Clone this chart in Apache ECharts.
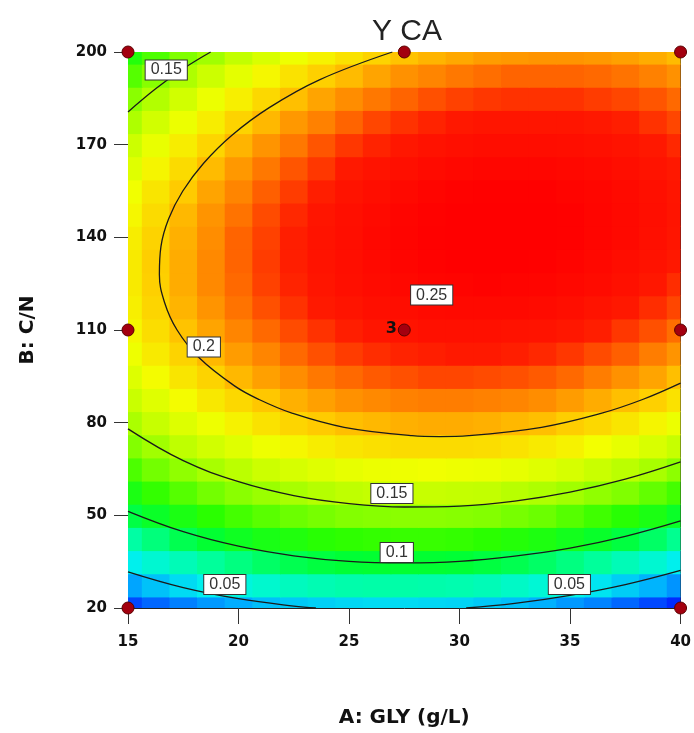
<!DOCTYPE html>
<html>
<head>
<meta charset="utf-8">
<title>Y CA</title>
<script src="https://cdn.jsdelivr.net/npm/echarts@6/dist/echarts.min.js"></script>
<style>
html, body {
	margin: 0;
	padding: 0;
	background: #fff;
}
#chart {
	width: 694px;
	height: 733px;
}
</style>
</head>
<body>
<div id="chart"></div>
<script type="text/javascript">

    // A: GLY (g/L) columns and B: C/N rows of the surface grid
    var gly = [15, 16.25, 17.5, 18.75, 20, 21.25, 22.5, 23.75, 25, 26.25, 27.5,
               28.75, 30, 31.25, 32.5, 33.75, 35, 36.25, 37.5, 38.75, 40];
    var cn = [20, 27.5, 35, 42.5, 50, 57.5, 65, 72.5, 80, 87.5, 95, 102.5, 110,
              117.5, 125, 132.5, 140, 147.5, 155, 162.5, 170, 177.5, 185, 192.5, 200];

    // Y CA, one row per C/N value (bottom to top)
    var yca = [
        [.015,.023,.029,.035,.040,.045,.048,.050,.052,.053,.053,.052,.051,.048,.045,.041,.035,.030,.023,.015,.007],
        [.038,.046,.053,.059,.064,.068,.072,.075,.077,.078,.078,.077,.076,.074,.070,.066,.062,.056,.049,.042,.034],
        [.059,.067,.074,.081,.086,.091,.095,.098,.100,.101,.101,.101,.100,.098,.095,.091,.086,.081,.074,.067,.059],
        [.079,.087,.095,.101,.107,.112,.115,.119,.121,.122,.123,.123,.122,.120,.117,.114,.109,.104,.098,.091,.083],
        [.097,.105,.113,.120,.126,.131,.135,.138,.141,.142,.143,.143,.142,.141,.138,.135,.130,.125,.119,.113,.105],
        [.113,.122,.130,.137,.143,.148,.152,.156,.159,.161,.162,.162,.161,.160,.157,.154,.150,.145,.140,.133,.126],
        [.128,.137,.145,.152,.158,.164,.168,.172,.175,.177,.178,.179,.178,.177,.175,.172,.168,.163,.158,.152,.144],
        [.141,.150,.159,.166,.172,.178,.183,.187,.190,.192,.194,.194,.194,.193,.191,.188,.185,.180,.175,.169,.162],
        [.153,.162,.171,.178,.185,.191,.196,.200,.203,.205,.207,.208,.208,.207,.205,.203,.199,.195,.190,.184,.177],
        [.163,.172,.181,.189,.195,.201,.207,.211,.215,.217,.219,.220,.220,.219,.218,.216,.212,.208,.203,.198,.191],
        [.171,.181,.190,.197,.205,.211,.216,.221,.224,.227,.229,.231,.231,.230,.229,.227,.224,.220,.215,.210,.203],
        [.178,.188,.197,.205,.212,.218,.224,.229,.233,.236,.238,.239,.240,.240,.239,.237,.234,.230,.226,.220,.214],
        [.183,.193,.202,.210,.218,.224,.230,.235,.239,.243,.245,.247,.247,.247,.246,.245,.242,.239,.234,.229,.223],
        [.186,.196,.206,.214,.222,.229,.235,.240,.244,.248,.250,.252,.253,.253,.253,.251,.249,.245,.241,.236,.231],
        [.188,.198,.208,.217,.224,.232,.238,.243,.248,.251,.254,.256,.257,.258,.257,.256,.254,.251,.247,.242,.236],
        [.188,.199,.208,.217,.225,.233,.239,.245,.249,.253,.256,.258,.260,.260,.260,.259,.257,.254,.250,.246,.241],
        [.187,.197,.207,.216,.225,.232,.239,.245,.249,.254,.257,.259,.261,.261,.261,.260,.259,.256,.253,.248,.243],
        [.183,.194,.205,.214,.222,.230,.237,.243,.248,.252,.256,.258,.260,.261,.261,.260,.259,.256,.253,.249,.244],
        [.179,.190,.200,.210,.218,.226,.233,.239,.245,.249,.253,.256,.258,.259,.259,.259,.257,.255,.252,.248,.243],
        [.172,.184,.194,.204,.213,.221,.228,.234,.240,.245,.248,.251,.254,.255,.255,.255,.254,.252,.249,.245,.241],
        [.164,.176,.187,.196,.206,.214,.221,.228,.234,.238,.242,.246,.248,.250,.250,.250,.249,.247,.245,.241,.237],
        [.154,.166,.177,.187,.197,.205,.213,.219,.225,.231,.235,.238,.241,.243,.243,.243,.243,.241,.239,.235,.231],
        [.143,.155,.166,.177,.186,.195,.203,.210,.216,.221,.225,.229,.232,.234,.235,.235,.235,.233,.231,.228,.224],
        [.130,.142,.154,.164,.174,.183,.191,.198,.204,.210,.215,.218,.221,.223,.225,.225,.225,.224,.222,.219,.215],
        [.116,.128,.140,.150,.160,.169,.178,.185,.191,.197,.202,.206,.209,.212,.213,.214,.214,.213,.211,.208,.204]
    ];

    // contour lines, [GLY, C/N]
    var contour005a = [[15,31.7],[17.5,26.6],[20,23.0],[22.5,20.6],[23.5,20]];
    var contour005b = [[30.3,20],[32.5,21.5],[35,24.1],[37.5,27.6],[40,32.2]];
    var contour010 = [[15,51.3],[17.5,44.7],[20,40.0],[22.5,36.9],[25,35.1],[27.5,34.6],
                      [30,35.1],[32.5,36.8],[35,39.4],[37.5,43.2],[40,48.2]];
    var contour015 = [[15,78.0],[17.5,67.7],[20,60.9],[22.5,56.4],[25,53.8],[27.5,52.7],
                      [30,53.0],[32.5,54.6],[35,57.5],[37.5,61.7],[40,67.3]];
    var contour015top = [[15,180.6],[16.25,188.1],[17.5,194.6],[18.74,200]];
    var contour020 = [[26.96,200],[23.66,191],[21.39,182],[19.69,173],[18.42,164],[17.48,155],
                      [16.84,146],[16.49,137],[16.42,128],[16.65,119],[17.22,110],[18.22,101],
                      [19.8,92],[20.93,87.5],[22.45,83],[24.78,78.5],[27.85,75.8],[29.1,75.5],
                      [30.42,75.8],[33.71,78.5],[36.4,83],[38.28,87.5],[40,92.8]];

    // contour value boxes
    var contourLabels = [
        [16.73, 194.2, '0.15'], [18.43, 104.5, '0.2'], [28.74, 121.3, '0.25'],
        [26.94, 57.1, '0.15'], [27.16, 38.0, '0.1'], [19.38, 27.6, '0.05'], [34.97, 27.6, '0.05']
    ];

    // design points
    var designPoints = [[15,20],[15,110],[15,200],[27.5,200],[40,200],[40,110],[40,20]];
    var centerPoint = [27.5, 110];

    var mapColors = ['#0010ff','#005bff','#00adff','#00f3ec','#00ffa0','#00ff35','#2aff00',
                     '#80ff00','#c2ff00','#f3ff00','#ffcb00','#ff7d00','#ff1900','#ff0000'];

    var cells = [];
    for (var j = 0; j < cn.length; j++) {
        for (var i = 0; i < gly.length; i++) {
            cells.push([gly[i], cn[j], yca[j][i]]);
        }
    }

    function renderCell(params, api) {
        var x = api.value(0), y = api.value(1);
        var p0 = api.coord([x - 0.625, y + 3.75]);
        var p1 = api.coord([x + 0.625, y - 3.75]);
        var shape = echarts.graphic.clipRectByRect({
            x: p0[0], y: p0[1], width: p1[0] - p0[0] + 1, height: p1[1] - p0[1] + 1
        }, {
            x: params.coordSys.x, y: params.coordSys.y,
            width: params.coordSys.width, height: params.coordSys.height
        });
        return shape && {
            type: 'rect',
            shape: shape,
            style: { fill: api.visual('color') }
        };
    }

    function contourLine(data) {
        return {
            type: 'line',
            data: data,
            smooth: 0.4,
            showSymbol: false,
            symbol: 'none',
            silent: true,
            lineStyle: { color: '#1a1a1a', width: 1.3 },
            z: 3
        };
    }

    var tickFont = { fontFamily: 'DejaVu Sans', fontWeight: 'bold', fontSize: 15, color: '#111' };
    var nameFont = { fontFamily: 'DejaVu Sans', fontWeight: 'bold', fontSize: 20, color: '#111' };

    var dataChart = echarts.init(document.getElementById('chart'));

    option = {
        animation: false,
        title: {
            text: 'Y CA',
            left: 367,
            top: 12,
            textStyle: { fontFamily: 'Liberation Sans', fontWeight: 'normal', fontSize: 30, color: '#222' }
        },
        grid: { left: 128, right: 12, top: 52, bottom: 125 },
        visualMap: {
            show: false,
            type: 'continuous',
            seriesIndex: 0,
            dimension: 2,
            min: 0,
            max: 0.26,
            inRange: { color: mapColors }
        },
        xAxis: [{
            type: 'value',
            min: 15,
            max: 40,
            interval: 5,
            name: 'A: GLY (g/L)',
            nameLocation: 'middle',
            nameGap: 100,
            nameTextStyle: nameFont,
            axisLine: { show: true, onZero: false, lineStyle: { color: '#222', width: 1 } },
            axisTick: { show: true, length: 16, lineStyle: { color: '#333' } },
            axisLabel: Object.assign({ margin: 27 }, tickFont),
            splitLine: { show: false }
        }, {
            type: 'value',
            position: 'top',
            min: 15,
            max: 40,
            axisLine: { show: true, onZero: false, lineStyle: { color: '#222', width: 1 } },
            axisTick: { show: false },
            axisLabel: { show: false },
            splitLine: { show: false }
        }],
        yAxis: [{
            type: 'value',
            min: 20,
            max: 200,
            interval: 30,
            name: 'B: C/N',
            nameLocation: 'middle',
            nameGap: 90,
            nameTextStyle: nameFont,
            axisLine: { show: true, onZero: false, lineStyle: { color: '#222', width: 1 } },
            axisTick: { show: true, length: 14, lineStyle: { color: '#333' } },
            axisLabel: Object.assign({ margin: 21 }, tickFont),
            splitLine: { show: false }
        }, {
            type: 'value',
            position: 'right',
            min: 20,
            max: 200,
            axisLine: { show: true, onZero: false, lineStyle: { color: '#222', width: 1 } },
            axisTick: { show: false },
            axisLabel: { show: false },
            splitLine: { show: false }
        }],
        series: [{
            type: 'custom',
            renderItem: renderCell,
            data: cells,
            encode: { x: 0, y: 1 },
            silent: true,
            z: 1
        },
            contourLine(contour005a),
            contourLine(contour005b),
            contourLine(contour010),
            contourLine(contour015),
            contourLine(contour015top),
            contourLine(contour020),
        {
            type: 'scatter',
            data: contourLabels,
            symbolSize: 1,
            itemStyle: { color: 'rgba(0,0,0,0)', opacity: 1 },
            silent: true,
            z: 4,
            label: {
                show: true,
                position: 'inside',
                formatter: function (p) { return p.value[2]; },
                fontFamily: 'Liberation Sans',
                fontSize: 16,
                color: '#333',
                backgroundColor: '#fff',
                borderColor: '#333',
                borderWidth: 1,
                padding: [2, 5, 1, 5]
            }
        }, {
            type: 'scatter',
            data: designPoints.concat([{
                value: centerPoint,
                label: {
                    show: true,
                    formatter: '3',
                    position: 'left',
                    distance: 1,
                    offset: [0, -1],
                    fontFamily: 'DejaVu Sans',
                    fontWeight: 'bold',
                    fontSize: 16,
                    color: '#111'
                }
            }]),
            symbolSize: 12,
            clip: false,
            silent: true,
            z: 5,
            itemStyle: { color: '#a3000f', borderColor: '#5a0000', borderWidth: 1, opacity: 1 }
        }]
    };

    dataChart.setOption(option);
</script>
</body>
</html>
